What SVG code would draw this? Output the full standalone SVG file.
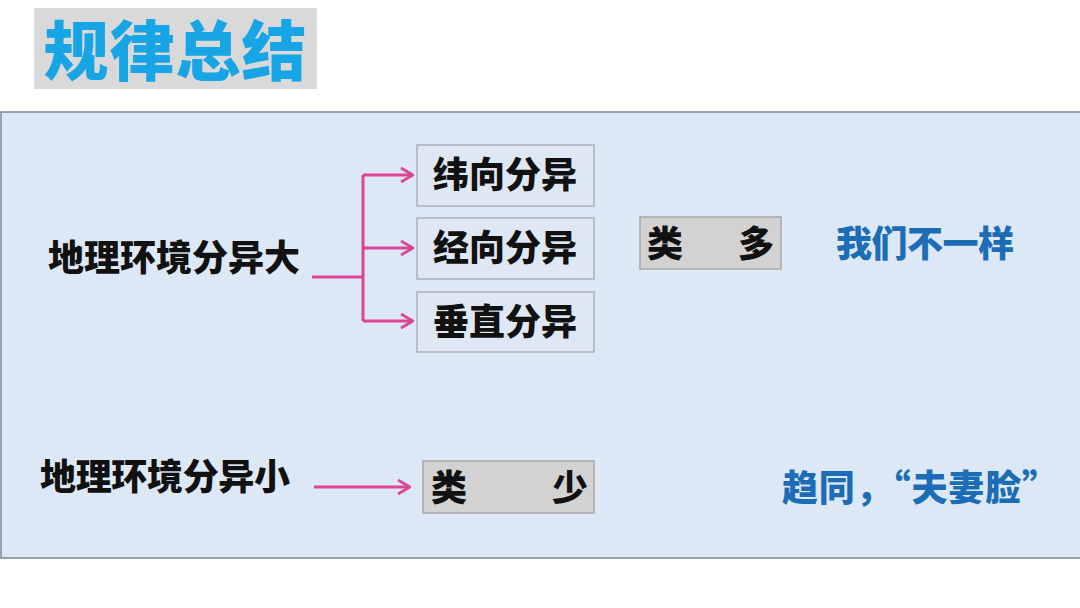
<svg xmlns="http://www.w3.org/2000/svg" width="1080" height="608" viewBox="0 0 1080 608">
<defs>
<style>
.t{font-family:"Noto Sans CJK SC","Liberation Sans",sans-serif;font-weight:900;}
.blk{fill:#111;font-size:36px;}
.blu{fill:#1c6db5;font-size:36px;}
.box{fill:#dde8f4;stroke:#a9b0b8;stroke-width:1.5;}
.gbox{fill:#d2d2d2;stroke:#a8a8a8;stroke-width:1.5;}
.ln{fill:none;stroke:#dd4596;stroke-width:3;}
</style>
<marker id="ah" viewBox="0 0 14 16" refX="13" refY="8" markerWidth="14" markerHeight="16" markerUnits="userSpaceOnUse" orient="auto">
<path d="M1,1 L13,8 L1,15" fill="none" stroke="#dd4596" stroke-width="2.8"/>
</marker>
</defs>
<rect width="1080" height="608" fill="#ffffff"/>
<g id="title">
<rect x="34" y="8" width="283" height="81" fill="#d9d9d9"/>
<text class="t" x="175" y="75" font-size="65" fill="#18a5e6" text-anchor="middle" textLength="263">规律总结</text>
</g>
<g id="panel">
<rect x="1" y="112" width="1084" height="446" fill="#dce8f5" stroke="#7a8796" stroke-width="1.5"/>
</g>
<g id="big">
<text class="t blk" x="48" y="271" textLength="252">地理环境分异大</text>
</g>
<g id="lat">
<rect class="box" x="417" y="145" width="177" height="61"/>
<text class="t blk" x="505" y="188" text-anchor="middle">纬向分异</text>
</g>
<g id="lon">
<rect class="box" x="417" y="218" width="177" height="61"/>
<text class="t blk" x="505" y="261" text-anchor="middle">经向分异</text>
</g>
<g id="vert">
<rect class="box" x="417" y="292" width="177" height="60"/>
<text class="t blk" x="505" y="335" text-anchor="middle">垂直分异</text>
</g>
<g id="many">
<rect class="gbox" x="640" y="217" width="141" height="52"/>
<text class="t blk" x="647" y="257">类</text>
<text class="t blk" x="738" y="257">多</text>
</g>
<g id="diff">
<text class="t blu" x="836" y="257" textLength="178">我们不一样</text>
</g>
<g id="small">
<text class="t blk" x="40" y="490" textLength="250">地理环境分异小</text>
</g>
<g id="few">
<rect class="gbox" x="423" y="461" width="171" height="52"/>
<text class="t blk" x="431" y="501">类</text>
<text class="t blk" x="552" y="501">少</text>
</g>
<g id="same">
<text class="t blu" x="782" y="501" textLength="276">趋同，“夫妻脸”</text>
</g>
<g id="connectors">
<path class="ln" d="M312,277 H363"/>
<path class="ln" d="M363,175 V321"/>
<path class="ln" d="M363,175 H413" marker-end="url(#ah)"/>
<path class="ln" d="M363,248 H413" marker-end="url(#ah)"/>
<path class="ln" d="M363,321 H413" marker-end="url(#ah)"/>
<path class="ln" d="M314,487 H410" marker-end="url(#ah)"/>
</g>
</svg>
